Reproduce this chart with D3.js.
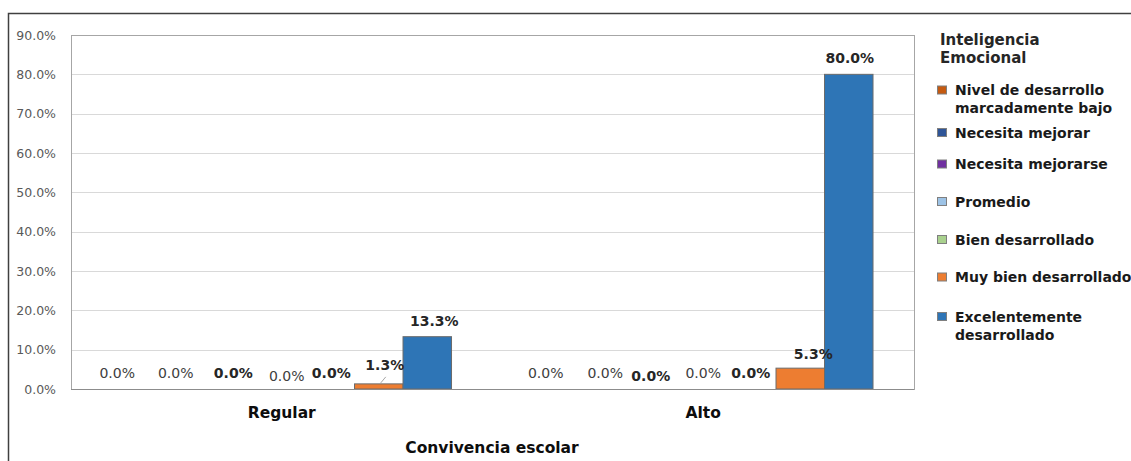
<!DOCTYPE html>
<html>
<head>
<meta charset="utf-8">
<script src="https://cdn.jsdelivr.net/npm/d3@7"></script>
<style>
  html, body { margin: 0; padding: 0; background: #fff; }
  svg { display: block; font-family: "DejaVu Sans", Verdana, sans-serif; }
</style>
</head>
<body>
<svg id="chart" width="1131" height="461"></svg>
<script>
// ---- data ----
const categories = ["Regular", "Alto"];
const seriesNames = [
  "Nivel de desarrollo marcadamente bajo",
  "Necesita mejorar",
  "Necesita mejorarse",
  "Promedio",
  "Bien desarrollado",
  "Muy bien desarrollado",
  "Excelentemente desarrollado"
];
const valuesRegular = [0.000, 0.000, 0.000, 0.000, 0.000, 0.013, 0.133];
const valuesAlto    = [0.000, 0.000, 0.000, 0.000, 0.000, 0.053, 0.800];
const yTicks = [0, 0.1, 0.2, 0.3, 0.4, 0.5, 0.6, 0.7, 0.8, 0.9];
const legendTitle = ["Inteligencia", "Emocional"];
const legendLines = [
  ["Nivel de desarrollo", "marcadamente bajo"],
  ["Necesita mejorar"],
  ["Necesita mejorarse"],
  ["Promedio"],
  ["Bien desarrollado"],
  ["Muy bien desarrollado"],
  ["Excelentemente", "desarrollado"]
];
const xTitle = "Convivencia escolar";

// ---- styles (not data) ----
const colors = ["#C55A11", "#2F5597", "#7030A0", "#9DC3E6", "#A9D18E", "#ED7D31", "#2E75B6"];
const labelBold = [false, false, true, false, true, true, true];
// manual label nudges as in the original (per category, per series)
const labelDx = [[-19, -9, 0, 5, 1, 6, 7], [-12, -1, -4, 0, -1, 13, 1]];
const labelDy = [[0, 0, 0, 3, 0, -3, 0], [0, 0, 3, 0, 0, 2, 0]];
const legendRowY = [90, 132.5, 164, 201.5, 239.5, 277, 316.5];

const table = categories.map((c, i) => ({
  category: c,
  values: [valuesRegular, valuesAlto][i]
}));

const svg = d3.select("#chart");
const plot = { left: 71, right: 914, top: 35, bottom: 389 };

// outer chart border
svg.append("path")
  .attr("d", `M8.5,470 V13.5 H1140`)
  .attr("fill", "none").attr("stroke", "#404040").attr("stroke-width", 1.5);

const y = d3.scaleLinear().domain([0, 0.9]).range([plot.bottom, plot.top]);
const x0 = d3.scaleBand().domain(categories).range([plot.left, plot.right]).padding(0);
const x1 = d3.scaleBand().domain(d3.range(seriesNames.length))
  .range([0, x0.bandwidth()]).paddingInner(0).paddingOuter(0.845).align(0.5);

// gridlines
svg.append("g").selectAll("line").data(yTicks.filter(t => t > 0 && t < 0.9)).join("line")
  .attr("x1", plot.left).attr("x2", plot.right)
  .attr("y1", d => Math.round(y(d)) + 0.5).attr("y2", d => Math.round(y(d)) + 0.5)
  .attr("stroke", "#d9d9d9").attr("stroke-width", 1);

// plot border
svg.append("rect")
  .attr("x", plot.left + 0.5).attr("y", plot.top + 0.5)
  .attr("width", plot.right - plot.left).attr("height", plot.bottom - plot.top)
  .attr("fill", "none").attr("stroke", "#a6a6a6").attr("stroke-width", 1);

// y axis
const yAxis = d3.axisLeft(y).tickValues(yTicks).tickFormat(d3.format(".1%")).tickSize(0).tickPadding(15);
const gy = svg.append("g").attr("transform", `translate(${plot.left},0)`).call(yAxis);
gy.select(".domain").remove();
gy.selectAll("text").attr("font-size", 12.5).attr("fill", "#595959")
  .attr("font-family", "DejaVu Sans, sans-serif");

// bars
const groups = svg.append("g").selectAll("g").data(table).join("g")
  .attr("transform", d => `translate(${x0(d.category)},0)`);

groups.selectAll("rect").data(d => d.values.map((v, i) => ({ v, i }))).join("rect")
  .attr("x", d => x1(d.i)).attr("width", x1.bandwidth())
  .attr("y", d => y(d.v)).attr("height", d => y(0) - y(d.v))
  .attr("fill", d => colors[d.i])
  .attr("stroke", d => d.v > 0 ? "#6b6b6b" : "none").attr("stroke-width", 1);

// bottom axis line
svg.append("line").attr("x1", plot.left).attr("x2", plot.right)
  .attr("y1", plot.bottom + 0.5).attr("y2", plot.bottom + 0.5)
  .attr("stroke", "#8c8c8c").attr("stroke-width", 1);

// data labels
groups.each(function (d, ci) {
  const g = d3.select(this);
  d.values.forEach((v, i) => {
    const cx = x1(i) + x1.bandwidth() / 2 + labelDx[ci][i];
    const ty = y(v) - 11 + labelDy[ci][i];
    g.append("text")
      .attr("x", cx).attr("y", ty)
      .attr("text-anchor", "middle")
      .attr("font-size", 14)
      .attr("font-weight", labelBold[i] ? "bold" : "normal")
      .attr("fill", labelBold[i] ? "#262626" : "#404040")
      .text(d3.format(".1%")(v));
    if (ci === 0 && i === 5) {
      // leader line from label to bar
      g.append("line")
        .attr("x1", x1(i) + x1.bandwidth() / 2 + 2).attr("y1", y(v) - 1)
        .attr("x2", x1(i) + x1.bandwidth() / 2 + 7).attr("y2", y(v) - 7)
        .attr("stroke", "#a6a6a6").attr("stroke-width", 1);
    }
  });
});

// category labels
svg.append("g").selectAll("text").data(categories).join("text")
  .attr("x", d => x0(d) + x0.bandwidth() / 2).attr("y", 418)
  .attr("text-anchor", "middle").attr("font-size", 15.5).attr("font-weight", "bold")
  .attr("fill", "#0d0d0d").text(d => d);

// x title
svg.append("text").attr("x", 492).attr("y", 453)
  .attr("text-anchor", "middle").attr("font-size", 15.5).attr("font-weight", "bold")
  .attr("fill", "#0d0d0d").text(xTitle);

// legend
const lg = svg.append("g");
lg.selectAll("text.title").data(legendTitle).join("text").attr("class", "title")
  .attr("x", 940).attr("y", (d, i) => 45 + i * 18)
  .attr("font-size", 15).attr("font-weight", "bold").attr("fill", "#262626").text(d => d);

const items = lg.selectAll("g.item").data(seriesNames).join("g").attr("class", "item")
  .attr("transform", (d, i) => `translate(0,${legendRowY[i]})`);
items.append("rect").attr("x", 937.5).attr("y", -4).attr("width", 9).attr("height", 8)
  .attr("fill", (d, i) => colors[i]).attr("stroke", "#7f7f7f").attr("stroke-width", 1);
items.each(function (d, i) {
  d3.select(this).selectAll("text").data(legendLines[i]).join("text")
    .attr("x", 955).attr("y", (t, j) => 5 + j * 18)
    .attr("font-size", 14).attr("font-weight", "bold").attr("fill", "#1a1a1a").text(t => t);
});
</script>
</body>
</html>
